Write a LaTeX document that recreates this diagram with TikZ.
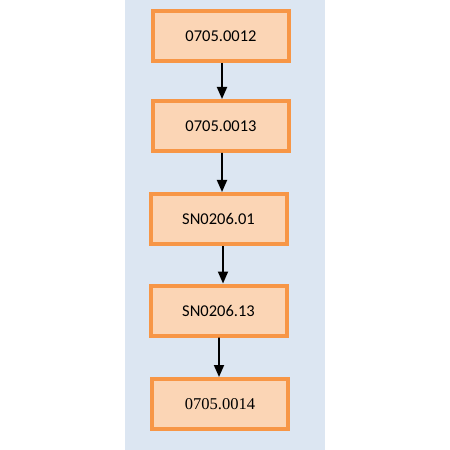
\documentclass[tikz,border=0pt]{standalone}
\usepackage{fontspec}
\setmainfont{Carlito}
\newfontfamily\timesfont{Liberation Serif}
\usetikzlibrary{arrows.meta}
\definecolor{bgblue}{HTML}{DCE6F2}
\definecolor{boxfill}{HTML}{FBD5B5}
\definecolor{boxline}{HTML}{F79646}
\tikzset{
  stepbox/.style={draw=boxline, fill=boxfill, line width=4bp, minimum width=136bp, minimum height=50bp, inner sep=0pt},
  sanslabel/.style={font=\fontsize{16.5bp}{19bp}\selectfont},
  seriflabel/.style={font=\timesfont\fontsize{16.5bp}{19bp}\selectfont},
  flowarrow/.style={-{Triangle[length=12bp,width=10bp]}, line width=1.8bp, black}
}
\begin{document}
\begin{tikzpicture}[x=1bp,y=-1bp]
\useasboundingbox (0,0) rectangle (450,450);
\fill[bgblue] (125,0) rectangle (325,450);
\node[stepbox, sanslabel] (b1) at (221,36) {0705.0012};
\node[stepbox, sanslabel] (b2) at (221,126) {0705.0013};
\node[stepbox, sanslabel] (b3) at (218.5,219) {SN0206.01};
\node[stepbox, sanslabel] (b4) at (218.5,310.5) {SN0206.13};
\node[stepbox, seriflabel] (b5) at (220,404) {{\timesfont 0705.0014}};
\draw[flowarrow] ([xshift=1bp]b1.south) -- ([xshift=1bp]b2.north);
\draw[flowarrow] ([xshift=1bp]b2.south) -- ([xshift=3.5bp]b3.north);
\draw[flowarrow] ([xshift=4.5bp]b3.south) -- ([xshift=4.5bp]b4.north);
\draw[flowarrow] ([xshift=0.5bp]b4.south) -- ([xshift=-1bp]b5.north);
\end{tikzpicture}
\end{document}
